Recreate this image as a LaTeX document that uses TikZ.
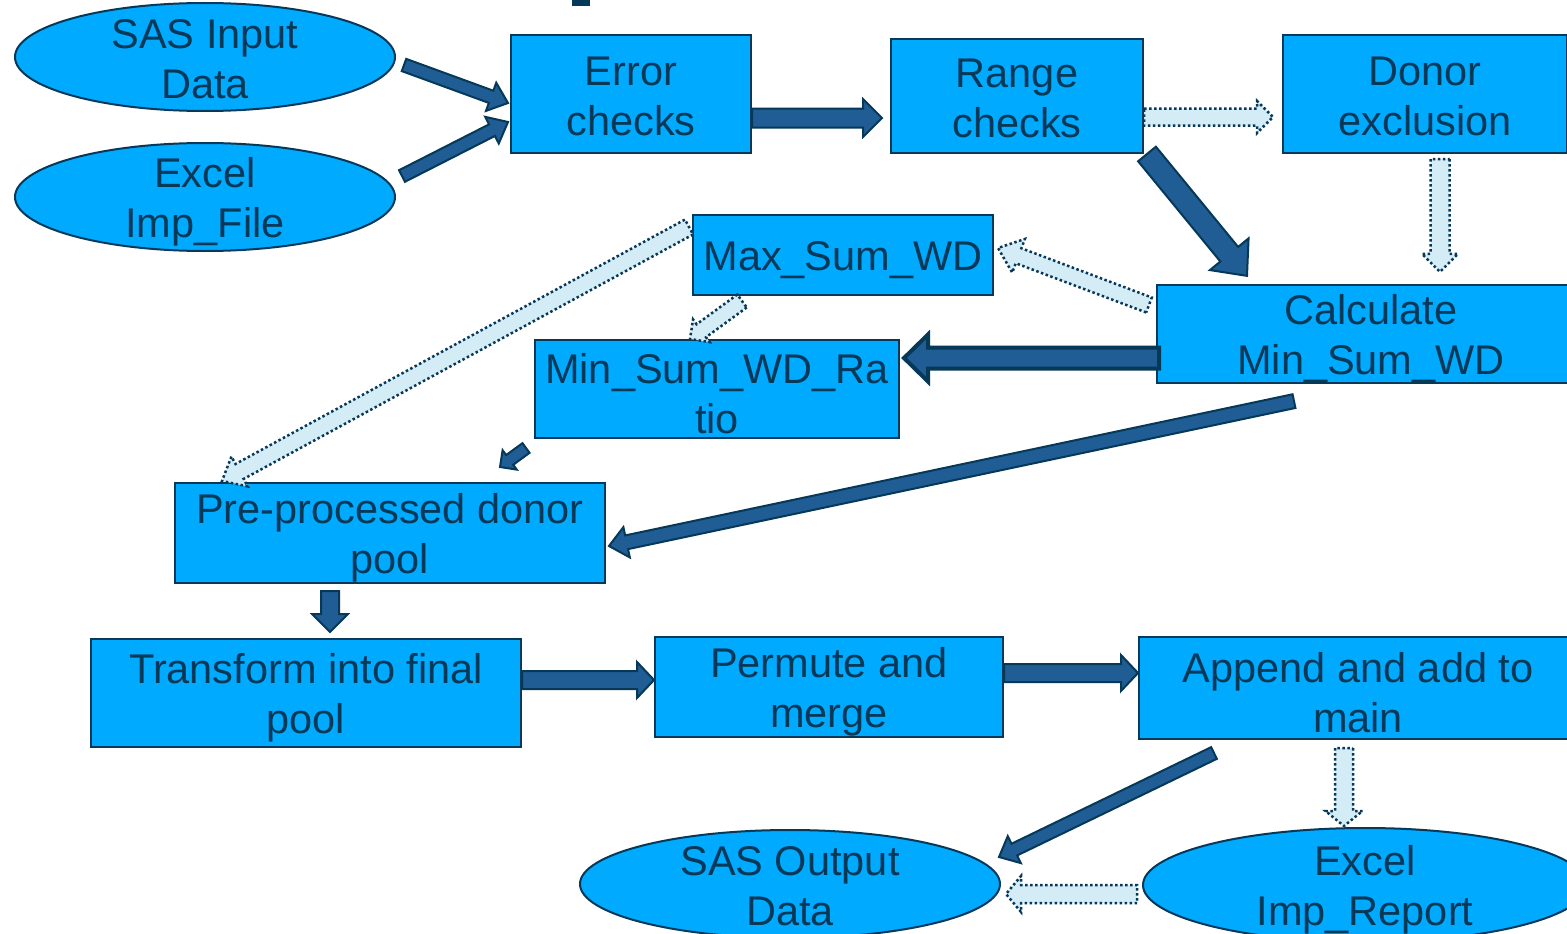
\documentclass[tikz,border=0pt]{standalone}
\usepackage{fontspec}
\setmainfont{Liberation Sans}
\usetikzlibrary{calc,positioning,shapes.geometric}
\definecolor{boxcyan}{RGB}{0,170,255}
\definecolor{navy}{RGB}{6,56,88}
\definecolor{arrowblue}{RGB}{31,93,148}
\definecolor{paleblue}{RGB}{212,236,246}
\newcommand{\topstrut}{\rule{0pt}{40pt}}
\newcommand{\lowstrut}{\rule{0pt}{33pt}}

\tikzset{
  stepbox/.style={draw=navy,line width=2pt,fill=boxcyan,text=navy,align=center,inner sep=0pt,
    font=\fontsize{41.5}{50}\selectfont},
  datafile/.style={stepbox,ellipse,inner ysep=-16pt},
  solidarr/.style={draw=navy,fill=arrowblue,line width=2pt,line join=miter},
  heavyarr/.style={solidarr,line width=4pt},
  lightarr/.style={draw=navy,fill=paleblue,line width=2.5pt,dash pattern=on 2.5pt off 2.5pt,line join=miter}
}

% block arrow: [style]{tail}{tip}{shaft half width}{head half width}{head length}
\newcommand{\blockarrow}[6][solidarr]{%
  \draw[#1] ($(#2)!#4!90:(#3)$) -- ($(#3)!#6!(#2)!#4!-90:(#2)$) -- ($(#3)!#6!(#2)!#5!-90:(#2)$)
    -- (#3) -- ($(#3)!#6!(#2)!#5!90:(#2)$) -- ($(#3)!#6!(#2)!#4!90:(#2)$) -- ($(#2)!#4!-90:(#3)$) -- cycle;}

\begin{document}
\begin{tikzpicture}[x=1pt,y=-1pt]
    \clip (0,0) rectangle (1567,934);
    \fill[white] (0,0) rectangle (1567,934);
    \fill[navy] (572,0) rectangle (590,6);

    \node[datafile,minimum width=380pt,minimum height=108pt] (sasin) at (205,57) {\lowstrut SAS Input\\Data};
    \node[datafile,minimum width=380pt,minimum height=108pt] (excelin) at (205,197) {\topstrut Excel\\Imp\_File};
    \node[stepbox,minimum width=240pt,minimum height=118pt] (errcheck) at (631,94) {\lowstrut Error\\checks};
    \node[stepbox,minimum width=252pt,minimum height=114pt] (rangecheck) at (1017,96) {\lowstrut Range\\checks};
    \node[stepbox,minimum width=284pt,minimum height=118pt] (donorex) at (1425,94) {\lowstrut Donor\\exclusion};
    \node[stepbox,minimum width=300pt,minimum height=80pt] (maxsum) at (843,255) {\topstrut Max\_Sum\_WD};
    \node[stepbox,minimum width=428pt,minimum height=98pt] (calcmin) at (1371,334) {\topstrut Calculate\\Min\_Sum\_WD};
    \node[stepbox,minimum width=364pt,minimum height=98pt] (minratio) at (717,389) {\topstrut Min\_Sum\_WD\_Ra\\tio};
    \node[stepbox,minimum width=430pt,minimum height=100pt] (prepool) at (390,533) {\topstrut Pre-processed donor\\pool};
    \node[stepbox,minimum width=430pt,minimum height=108pt] (finalpool) at (306,693) {\topstrut Transform into final\\pool};
    \node[stepbox,minimum width=348pt,minimum height=100pt] (permute) at (829,687) {\topstrut Permute and\\merge};
    \node[stepbox,minimum width=438pt,minimum height=102pt] (appendmain) at (1358,688) {\topstrut Append and add to\\main};
    \node[datafile,minimum width=420pt,minimum height=108pt] (sasout) at (790,884) {\lowstrut SAS Output\\Data};
    \node[datafile,minimum width=444pt,minimum height=114pt] (excelrep) at (1365,885) {\topstrut Excel\\Imp\_Report};

    % arrow ends
    \coordinate (t1) at ([shift={(8,8)}]sasin.east);
    \coordinate (h1) at ([shift={(-2,9)}]errcheck.west);
    \coordinate (t2) at ([shift={(6,-21)}]excelin.east);
    \coordinate (h2) at ([shift={(-2,28)}]errcheck.west);
    \coordinate (t3) at ([shift={(0,24)}]errcheck.east);
    \coordinate (h3) at ([shift={(-8,22)}]rangecheck.west);
    \coordinate (t4) at ([shift={(3,0)}]rangecheck.south east);
    \coordinate (h4) at ([shift={(91,-8)}]calcmin.north west);
    \coordinate (t5) at ([shift={(3,24)}]calcmin.west);
    \coordinate (h5) at ([shift={(4,-31)}]minratio.east);
    \coordinate (t6) at ([shift={(-77,17)}]calcmin.south);
    \coordinate (h6) at ([shift={(3,13)}]prepool.east);
    \coordinate (t7) at ([shift={(-8,9)}]minratio.south west);
    \coordinate (h7) at ([shift={(110,-15)}]prepool.north);
    \coordinate (t8) at ([shift={(-60,7)}]prepool.south);
    \coordinate (h8) at ([shift={(24,-6)}]finalpool.north);
    \coordinate (t9) at ([shift={(0,-13)}]finalpool.east);
    \coordinate (h9) at ([shift={(0,-7)}]permute.west);
    \coordinate (t10) at ([shift={(0,-14)}]permute.east);
    \coordinate (h10) at ([shift={(0,-15)}]appendmain.west);
    \coordinate (t11) at ([shift={(-144,13)}]appendmain.south);
    \coordinate (h11) at ([shift={(-2,-27)}]sasout.east);

    \coordinate (lt1) at ([shift={(0,21)}]rangecheck.east);
    \coordinate (lh1) at ([shift={(-9,23)}]donorex.west);
    \coordinate (lt2) at ([shift={(15,5)}]donorex.south);
    \coordinate (lh2) at ([shift={(69,-12)}]calcmin.north);
    \coordinate (lt3) at ([shift={(-7,-29)}]calcmin.west);
    \coordinate (lh3) at ([shift={(4,-7)}]maxsum.east);
    \coordinate (lt4) at ([shift={(-3,-28)}]maxsum.west);
    \coordinate (lh4) at ([shift={(-168,-1)}]prepool.north);
    \coordinate (lt5) at ([shift={(-101,5)}]maxsum.south);
    \coordinate (lh5) at ([shift={(-27,0)}]minratio.north);
    \coordinate (lt6) at ([shift={(-14,8)}]appendmain.south);
    \coordinate (lh6) at ([shift={(-21,-1)}]excelrep.north);
    \coordinate (lt7) at ([shift={(-5,9)}]excelrep.west);
    \coordinate (lh7) at ([shift={(5,10)}]sasout.east);

    \blockarrow{t1}{h1}{6.5pt}{15pt}{18pt}
    \blockarrow{t2}{h2}{6.5pt}{15pt}{18pt}
    \blockarrow{t3}{h3}{9.5pt}{19pt}{19pt}
    \blockarrow{t4}{h4}{11.5pt}{25pt}{28pt}
    \blockarrow[heavyarr]{t5}{h5}{10.5pt}{23.5pt}{24pt}
    \blockarrow{t6}{h6}{7pt}{15.5pt}{18pt}
    \blockarrow{t7}{h7}{6pt}{12pt}{12pt}
    \blockarrow{t8}{h8}{9pt}{18pt}{18pt}
    \blockarrow{t9}{h9}{9pt}{18pt}{17pt}
    \blockarrow{t10}{h10}{9pt}{18pt}{17pt}
    \blockarrow{t11}{h11}{6.5pt}{15pt}{17pt}

    \blockarrow[lightarr]{lt1}{lh1}{8.5pt}{16pt}{16pt}
    \blockarrow[lightarr]{lt2}{lh2}{9.5pt}{18pt}{18pt}
    \blockarrow[lightarr]{lt3}{lh3}{8pt}{18pt}{22pt}
    \blockarrow[lightarr]{lt4}{lh4}{8.5pt}{17pt}{20pt}
    \blockarrow[lightarr]{lt5}{lh5}{8pt}{14pt}{14pt}
    \blockarrow[lightarr]{lt6}{lh6}{9pt}{18.5pt}{15pt}
    \blockarrow[lightarr]{lt7}{lh7}{9pt}{18pt}{15pt}
  \end{tikzpicture}
\end{document}
